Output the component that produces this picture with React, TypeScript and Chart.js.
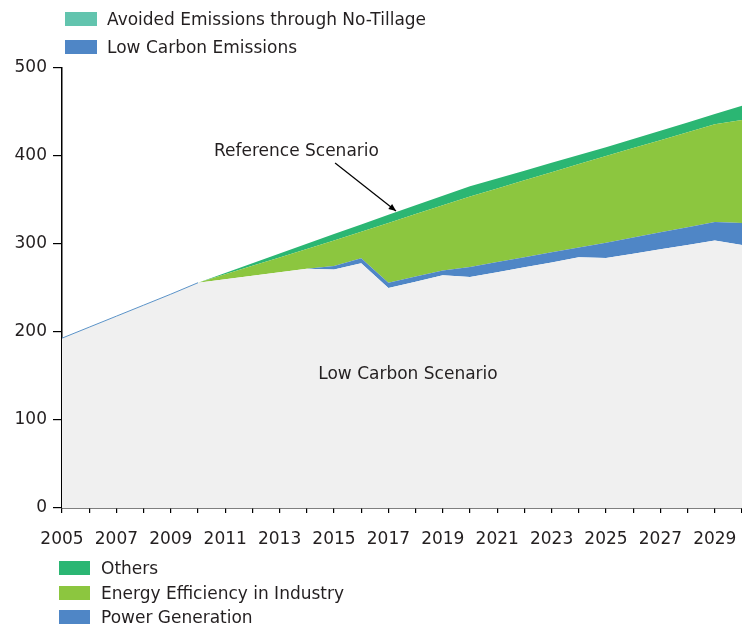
import React, { useEffect, useRef } from 'react';
import { Chart, registerables } from 'chart.js';
Chart.register(...registerables);

const years = ['2005', '2006', '2007', '2008', '2009', '2010', '2011', '2012', '2013', '2014', '2015', '2016', '2017', '2018', '2019', '2020', '2021', '2022', '2023', '2024', '2025', '2026', '2027', '2028', '2029', '2030'];
const lowCarbonScenario = [193, 205.5, 218, 230.5, 243, 256, 260, 264, 268, 272, 271, 278, 250, 257, 264.5, 262.5, 268, 273.5, 279, 285, 284, 289, 294, 299, 304, 299];
const powerGeneration = [0, 0, 0, 0, 0, 0, 0, 0, 0, 0, 4, 5.7, 6, 6, 5.5, 11.5, 11.5, 11.5, 11.5, 11, 17.5, 18.4, 19.3, 20.1, 21, 25];
const energyEfficiency = [0, 0, 0, 0, 0, 0, 5.6, 11.2, 16.8, 22.4, 29, 30.3, 68, 71, 74, 80, 83.7, 87.4, 91.1, 94.8, 98.5, 101.6, 104.7, 107.9, 111, 117];
const others = [0, 0, 0, 0, 0, 0, 1.5, 3, 4.5, 6, 7.5, 8.3, 9.1, 9.9, 10.7, 11.5, 11.2, 10.9, 10.6, 10.3, 10, 10.4, 10.8, 11.2, 11.6, 16];
const lowCarbonEmissions = [193, 205.5, 218, 230.5, 243, 256, null, null, null, null, null, null, null, null, null, null, null, null, null, null, null, null, null, null, null, null];

const topLegend = [
  { label: 'Avoided Emissions through No-Tillage', color: '#62c4ae' },
  { label: 'Low Carbon Emissions', color: '#4f86c6' },
];
const bottomLegend = [
  { label: 'Others', color: '#2bb673' },
  { label: 'Energy Efficiency in Industry', color: '#8cc63f' },
  { label: 'Power Generation', color: '#4f86c6' },
];

const FONT = '"DejaVu Sans", sans-serif';
const TEXT = '#231f20';
const FS = 17;

export default function App() {
  const ref = useRef<HTMLCanvasElement>(null);
  useEffect(() => {
    const annot = {
      id: 'annot',
      afterDatasetsDraw(chart: any) {
        const { ctx, scales } = chart;
        const x = scales.x;
        const y = scales.y;
        ctx.save();
        ctx.font = `${FS}px ${FONT}`;
        ctx.fillStyle = TEXT;
        ctx.textAlign = 'center';
        ctx.textBaseline = 'middle';
        ctx.fillText('Reference Scenario', x.getPixelForValue(8.62), y.getPixelForValue(404.5));
        ctx.fillText('Low Carbon Scenario', x.getPixelForValue(12.72), y.getPixelForValue(152));
        const x1 = x.getPixelForValue(10.04);
        const y1 = y.getPixelForValue(392);
        const x2 = x.getPixelForValue(12.28);
        const y2 = y.getPixelForValue(337.5);
        ctx.strokeStyle = '#000';
        ctx.lineWidth = 1.2;
        ctx.beginPath();
        ctx.moveTo(x1, y1);
        ctx.lineTo(x2, y2);
        ctx.stroke();
        const a = Math.atan2(y2 - y1, x2 - x1);
        const hl = 8;
        ctx.fillStyle = '#000';
        ctx.beginPath();
        ctx.moveTo(x2, y2);
        ctx.lineTo(x2 - hl * Math.cos(a - 0.4), y2 - hl * Math.sin(a - 0.4));
        ctx.lineTo(x2 - hl * Math.cos(a + 0.4), y2 - hl * Math.sin(a + 0.4));
        ctx.closePath();
        ctx.fill();
        ctx.restore();
      },
    };
    const area = (label: string, data: number[], color: string, fill: any) => ({
      label,
      data,
      backgroundColor: color,
      borderColor: color,
      borderWidth: 0,
      pointRadius: 0,
      fill,
      tension: 0,
      stack: 'main',
    });
    const chart = new Chart(ref.current as HTMLCanvasElement, {
      type: 'line',
      data: {
        labels: years,
        datasets: [
          area('Low Carbon Scenario', lowCarbonScenario, '#f0f0f0', 'origin'),
          area('Power Generation', powerGeneration, '#4f86c6', '-1'),
          area('Energy Efficiency in Industry', energyEfficiency, '#8cc63f', '-1'),
          area('Others', others, '#2bb673', '-1'),
          {
            label: 'Low Carbon Emissions',
            data: lowCarbonEmissions,
            borderColor: '#5b93c8',
            backgroundColor: '#5b93c8',
            borderWidth: 1,
            pointRadius: 0,
            fill: false,
            stack: 'hist',
            order: -1,
          } as any,
        ],
      },
      options: {
        responsive: false,
        animation: false,
        devicePixelRatio: 1,
        layout: { padding: { top: 68, right: 0, bottom: 0, left: 0 } },
        plugins: { legend: { display: false }, tooltip: { enabled: false } },
        scales: {
          x: {
            type: 'category',
            offset: false,
            afterFit: (s: any) => {
              s.height = 117;
              s.paddingRight = 0;
              s.paddingLeft = 0;
            },
            grid: { drawOnChartArea: false, drawTicks: true, tickLength: 5, color: '#000', lineWidth: 1.2 },
            border: { display: true, color: '#000', width: 1.5 },
            ticks: {
              autoSkip: false,
              maxRotation: 0,
              minRotation: 0,
              padding: 16,
              color: TEXT,
              font: { family: FONT, size: FS },
              callback: (_v: any, i: number) => (i % 2 === 0 ? years[i] : ''),
            },
          },
          y: {
            stacked: true,
            min: 0,
            max: 500,
            afterFit: (s: any) => {
              s.width = 62;
              s.paddingTop = 0;
              s.paddingBottom = 0;
            },
            grid: { drawOnChartArea: false, drawTicks: true, tickLength: 9, color: '#000', lineWidth: 1.2 },
            border: { display: true, color: '#000', width: 1.5 },
            ticks: {
              stepSize: 100,
              padding: 6,
              color: TEXT,
              font: { family: FONT, size: FS },
            },
          },
        },
      },
      plugins: [annot],
    } as any);
    return () => chart.destroy();
  }, []);

  const legendItem = (item: { label: string; color: string }, left: number, cy: number, boxW: number, gap: number) => (
    <div
      key={item.label}
      style={{
        position: 'absolute',
        left,
        top: cy - 11,
        height: 22,
        display: 'flex',
        alignItems: 'center',
        whiteSpace: 'nowrap',
      }}
    >
      <span style={{ display: 'inline-block', width: boxW, height: 14, background: item.color, marginRight: gap }} />
      <span style={{ fontSize: FS, lineHeight: '22px', color: TEXT }}>{item.label}</span>
    </div>
  );

  return (
    <div style={{ position: 'fixed', left: 0, top: 0, width: 742, height: 625, background: '#fff', fontFamily: FONT, overflow: 'hidden' }}>
      <canvas ref={ref} width={742} height={625} style={{ position: 'absolute', left: 0, top: 0 }} />
      {legendItem(topLegend[0], 65, 19, 32, 10)}
      {legendItem(topLegend[1], 65, 47, 32, 10)}
      {legendItem(bottomLegend[0], 59, 568, 31, 11)}
      {legendItem(bottomLegend[1], 59, 593, 31, 11)}
      {legendItem(bottomLegend[2], 59, 617, 31, 11)}
    </div>
  );
}
